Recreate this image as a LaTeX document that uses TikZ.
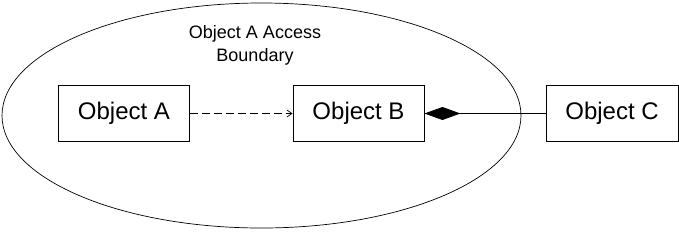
\documentclass[tikz,border=0pt]{standalone}
\usepackage{fontspec}
\setmainfont{Liberation Sans}
\usetikzlibrary{arrows.meta,positioning}
\tikzset{
  Obox/.style={draw, line width=0.9pt, minimum width=131pt, minimum height=56pt,
               inner sep=0pt, font=\fontsize{24}{28}\selectfont},
  Blabel/.style={align=center, font=\fontsize{18}{23}\selectfont},
  Darr/.style={-{Straight Barb[length=5pt,width=7pt]}, line width=0.7pt,
               dash pattern=on 8pt off 4pt},
  Carr/.style={{Diamond[length=36pt,width=13pt]}-, line width=0.7pt}
}
\begin{document}
\begin{tikzpicture}[x=1pt,y=-1pt]
  \useasboundingbox (0,0) rectangle (679,231);
  % access boundary
  \draw[line width=0.7pt] (261.5,115.5) ellipse [x radius=259.5, y radius=112.5];
  \node[Blabel] (lbl) at (255,45.5) {Object A Access\\Boundary};

  \node[Obox] (oa) at (124,113.5) {Object A};
  \node[Obox] (ob) at (358.5,113.5) {Object B};
  \node[Obox, minimum width=132pt] (oc) at (612,113.5) {Object C};

  \draw[Darr] (oa.east)--(ob.west);
  \draw[Carr] (ob.east)--(oc.west);
\end{tikzpicture}
\end{document}
